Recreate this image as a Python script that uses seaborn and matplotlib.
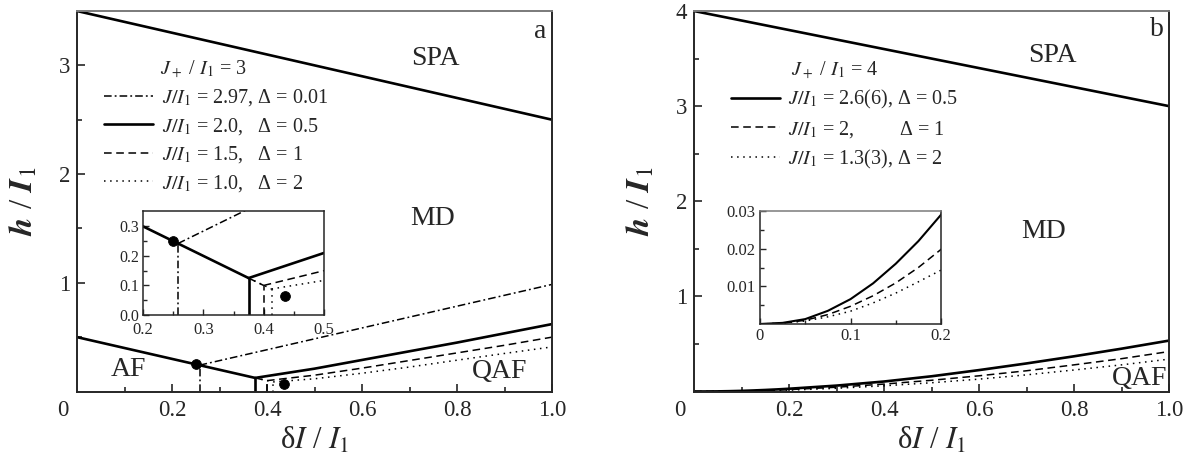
import numpy as np
import pandas as pd
import matplotlib
matplotlib.use("Agg")
import matplotlib.pyplot as plt
import matplotlib.transforms as mtrans
from matplotlib.ticker import FixedLocator, FixedFormatter
import seaborn as sns

# ---------------- data: panel a (J+/I1 = 3) ----------------
spa_a_x = [0.0, 1.0]
spa_a_h = [3.5, 2.5]
af_x = [0.0, 0.375]
af_h = [0.5, 0.125]
solid_a_vx = [0.375, 0.375]
solid_a_vh = [0.0, 0.125]
solid_a_x = [0.375, 0.5, 0.6, 0.7, 0.8, 0.9, 1.0]
solid_a_h = [0.125, 0.21, 0.29, 0.37, 0.45, 0.535, 0.62]
dashdot_vx = [0.258, 0.258]
dashdot_vh = [0.0, 0.242]
dashdot_x = [0.258, 1.0]
dashdot_h = [0.242, 0.985]
dashed_a_cx = [0.375, 0.4]
dashed_a_ch = [0.125, 0.1]
dashed_a_vx = [0.4, 0.4]
dashed_a_vh = [0.0, 0.1]
dashed_a_x = [0.4, 0.5, 0.6, 0.7, 0.8, 0.9, 1.0]
dashed_a_h = [0.1, 0.15, 0.215, 0.285, 0.355, 0.425, 0.5]
dotted_a_cx = [0.375, 0.413]
dotted_a_ch = [0.125, 0.088]
dotted_a_vx = [0.413, 0.413]
dotted_a_vh = [0.0, 0.088]
dotted_a_x = [0.413, 0.5, 0.6, 0.7, 0.8, 0.9, 1.0]
dotted_a_h = [0.088, 0.117, 0.168, 0.225, 0.288, 0.35, 0.41]
dots_a_x = [0.25, 0.436]
dots_a_h = [0.25, 0.065]

labels_a = ["$J/I_1$ = 2.97, Δ = 0.01",
            "$J/I_1$ = 2.0,   Δ = 0.5",
            "$J/I_1$ = 1.5,   Δ = 1",
            "$J/I_1$ = 1.0,   Δ = 2"]
title_a = "$J_+$ / $I_1$ = 3"

# ---------------- data: panel b (J+/I1 = 4) ----------------
spa_b_x = [0.0, 1.0]
spa_b_h = [4.0, 3.0]
b_x = [0.0, 0.025, 0.05, 0.075, 0.1, 0.125, 0.15, 0.175, 0.2,
       0.3, 0.4, 0.5, 0.6, 0.7, 0.8, 0.9, 1.0]
solid_b_h = [0.0, 0.0003, 0.0013, 0.0035, 0.0066, 0.0108, 0.016, 0.022, 0.029,
             0.062, 0.105, 0.16, 0.225, 0.295, 0.37, 0.45, 0.535]
dashed_b_h = [0.0, 0.0002, 0.001, 0.0025, 0.0047, 0.0075, 0.0109, 0.015, 0.0198,
              0.045, 0.078, 0.118, 0.165, 0.218, 0.28, 0.345, 0.42]
dotted_b_h = [0.0, 0.0002, 0.0008, 0.0019, 0.0034, 0.0056, 0.0082, 0.0112, 0.0143,
              0.034, 0.06, 0.092, 0.13, 0.175, 0.226, 0.28, 0.34]

labels_b = ["$J/I_1$ = 2.6(6), Δ = 0.5",
            "$J/I_1$ = 2,         Δ = 1",
            "$J/I_1$ = 1.3(3), Δ = 2"]
title_b = "$J_+$ / $I_1$ = 4"

# ---------------- style ----------------
sns.set_theme(style="ticks")
plt.rcParams['font.family'] = ['Liberation Serif', 'DejaVu Serif']
plt.rcParams['mathtext.fontset'] = 'stix'
plt.rcParams['axes.linewidth'] = 1.4

LW_THICK = 1.9
LW_THIN = 1.1
LS_SOLID = '-'
LS_DASH = (0, (5, 3))
LS_DOT = (0, (1, 3))
LS_DASHDOT = (0, (5, 2, 1.2, 2))

W, H = 1198, 462
fig = plt.figure(figsize=(W / 100, H / 100), dpi=100)


def frac(x0, y0, x1, y1):
    return [x0 / W, (H - y1) / H, (x1 - x0) / W, (y1 - y0) / H]


axA = fig.add_axes(frac(77, 11, 552, 391.5))
axB = fig.add_axes(frac(694, 11, 1169, 391.5))
insA = fig.add_axes(frac(143, 211, 324, 315))
insB = fig.add_axes(frac(760, 211, 941, 324))


def line(ax, x, y, ls, lw):
    sns.lineplot(x=x, y=y, ax=ax, color='black', linestyle=ls, linewidth=lw,
                 estimator=None, sort=False, legend=False)
    return ax.lines[-1]


def draw_a(ax, main=True):
    if main:
        line(ax, spa_a_x, spa_a_h, LS_SOLID, LW_THICK)
    line(ax, af_x, af_h, LS_SOLID, LW_THICK)
    line(ax, solid_a_vx, solid_a_vh, LS_SOLID, LW_THICK)
    h_solid = line(ax, solid_a_x, solid_a_h, LS_SOLID, LW_THICK)
    line(ax, dashdot_vx, dashdot_vh, LS_DASHDOT, LW_THIN)
    h_dd = line(ax, dashdot_x, dashdot_h, LS_DASHDOT, LW_THIN)
    line(ax, dashed_a_cx, dashed_a_ch, LS_DASH, LW_THIN)
    line(ax, dashed_a_vx, dashed_a_vh, LS_DASH, LW_THIN)
    h_dash = line(ax, dashed_a_x, dashed_a_h, LS_DASH, LW_THIN)
    line(ax, dotted_a_cx, dotted_a_ch, LS_DOT, LW_THIN)
    line(ax, dotted_a_vx, dotted_a_vh, LS_DOT, LW_THIN)
    h_dot = line(ax, dotted_a_x, dotted_a_h, LS_DOT, LW_THIN)
    sns.scatterplot(x=dots_a_x, y=dots_a_h, ax=ax, color='black', s=50,
                    edgecolor='black', zorder=5, legend=False)
    return [h_dd, h_solid, h_dash, h_dot]


def draw_b(ax, main=True):
    if main:
        line(ax, spa_b_x, spa_b_h, LS_SOLID, LW_THICK)
    h1 = line(ax, b_x, solid_b_h, LS_SOLID, LW_THICK if main else 1.5)
    h2 = line(ax, b_x, dashed_b_h, LS_DASH, LW_THIN)
    h3 = line(ax, b_x, dotted_b_h, LS_DOT, LW_THIN)
    return [h1, h2, h3]


hA = draw_a(axA)
draw_a(insA, main=False)
hB = draw_b(axB)
draw_b(insB, main=False)

TEXT_KW = dict(fontsize=20, ha='center', va='center')

for ax, ymax, ymaj, ymin in [
        (axA, 3.5, [1, 2, 3], [0.5, 1.5, 2.5]),
        (axB, 4.0, [1, 2, 3, 4], [0.5, 1.5, 2.5, 3.5])]:
    ax.set_xlim(0, 1)
    ax.set_ylim(0, ymax)
    ax.xaxis.set_major_locator(FixedLocator([0.2, 0.4, 0.6, 0.8, 1.0]))
    ax.xaxis.set_major_formatter(FixedFormatter(['0.2', '0.4', '0.6', '0.8', '1.0']))
    ax.xaxis.set_minor_locator(FixedLocator([0.1, 0.3, 0.5, 0.7, 0.9]))
    ax.yaxis.set_major_locator(FixedLocator(ymaj))
    ax.yaxis.set_major_formatter(FixedFormatter([str(v) for v in ymaj]))
    ax.yaxis.set_minor_locator(FixedLocator(ymin))
    ax.tick_params(which='major', direction='in', length=6, width=1.2,
                   labelsize=16.5, top=False, right=False)
    ax.tick_params(axis='x', which='major', pad=6)
    ax.tick_params(axis='y', which='major', pad=5)
    ax.tick_params(which='minor', direction='in', length=3.6, width=1.2,
                   top=False, right=False)
    ax.spines['top'].set_color('#7a7a7a')
    ax.set_xlabel("δ$I$ / $I_1$", fontsize=22)
    ax.set_ylabel(r"$\boldsymbol{h}$ / $\boldsymbol{I}_1$", fontsize=24)
    ax.xaxis.set_label_coords(0.5, -0.09)
    ax.yaxis.set_label_coords(-0.08, 0.5)
    off = mtrans.ScaledTranslation(-14 / 100, -6 / 72, fig.dpi_scale_trans)
    ax.text(0, 0, "0", transform=ax.get_xaxis_transform() + off,
            ha='center', va='top', fontsize=16.5)

for ax in (insA, insB):
    ax.tick_params(which='major', direction='in', length=4.3, width=1.0,
                   labelsize=12, pad=3, top=False, right=False)
    ax.tick_params(which='minor', direction='in', length=2.6, width=1.0,
                   top=False, right=False)
    for sp in ax.spines.values():
        sp.set_linewidth(1.1)
    ax.set_xlabel("")
    ax.set_ylabel("")
insA.tick_params(axis='x', which='major', pad=5)
insA.tick_params(axis='y', which='major', labelsize=11.5)

insA.set_xlim(0.2, 0.5)
insA.set_ylim(0.0, 0.352)
insA.xaxis.set_major_locator(FixedLocator([0.2, 0.3, 0.4, 0.5]))
insA.xaxis.set_major_formatter(FixedFormatter(['0.2', '0.3', '0.4', '0.5']))
insA.xaxis.set_minor_locator(FixedLocator([0.25, 0.35, 0.45]))
insA.yaxis.set_major_locator(FixedLocator([0.0, 0.1, 0.2, 0.3]))
insA.yaxis.set_major_formatter(FixedFormatter(['0.0', '0.1', '0.2', '0.3']))
insA.yaxis.set_minor_locator(FixedLocator([0.05, 0.15, 0.25]))

insB.set_xlim(0, 0.2)
insB.set_ylim(0, 0.03)
insB.xaxis.set_major_locator(FixedLocator([0.0, 0.1, 0.2]))
insB.xaxis.set_major_formatter(FixedFormatter(['0', '0.1', '0.2']))
insB.xaxis.set_minor_locator(FixedLocator([0.05, 0.15]))
insB.yaxis.set_major_locator(FixedLocator([0.01, 0.02, 0.03]))
insB.yaxis.set_major_formatter(FixedFormatter(['0.01', '0.02', '0.03']))
insB.yaxis.set_minor_locator(FixedLocator([0.005, 0.015, 0.025]))
insB.spines['top'].set_color('#7a7a7a')

# region labels
axA.text(0.975, 3.316, "a", **TEXT_KW)
axA.text(0.754, 3.06, "SPA", **TEXT_KW)
axA.text(0.749, 1.587, "MD", **TEXT_KW)
axA.text(0.109, 0.198, "AF", **TEXT_KW)
axA.text(0.89, 0.184, "QAF", **TEXT_KW)

axB.text(0.975, 3.81, "b", **TEXT_KW)
axB.text(0.754, 3.527, "SPA", **TEXT_KW)
axB.text(0.737, 1.677, "MD", **TEXT_KW)
axB.text(0.997, 0.068, "QAF", fontsize=20, ha='right', va='baseline')

# legends
LEG_KW = dict(frameon=False, fontsize=14.5, borderpad=0, borderaxespad=0,
              loc='upper left')
axA.legend(hA, labels_a, bbox_to_anchor=(0.057, 0.80), labelspacing=0.38,
           handlelength=2.45, handletextpad=0.45, **LEG_KW)
axB.legend(hB, labels_b, bbox_to_anchor=(0.078, 0.797), labelspacing=0.38,
           handlelength=2.45, handletextpad=0.4, **LEG_KW)
axA.text(0.175, 0.846, title_a, transform=axA.transAxes, fontsize=14.5,
         ha='left', va='center')
axB.text(0.204, 0.842, title_b, transform=axB.transAxes, fontsize=14.5,
         ha='left', va='center')

fig.savefig("out.png", dpi=100)
